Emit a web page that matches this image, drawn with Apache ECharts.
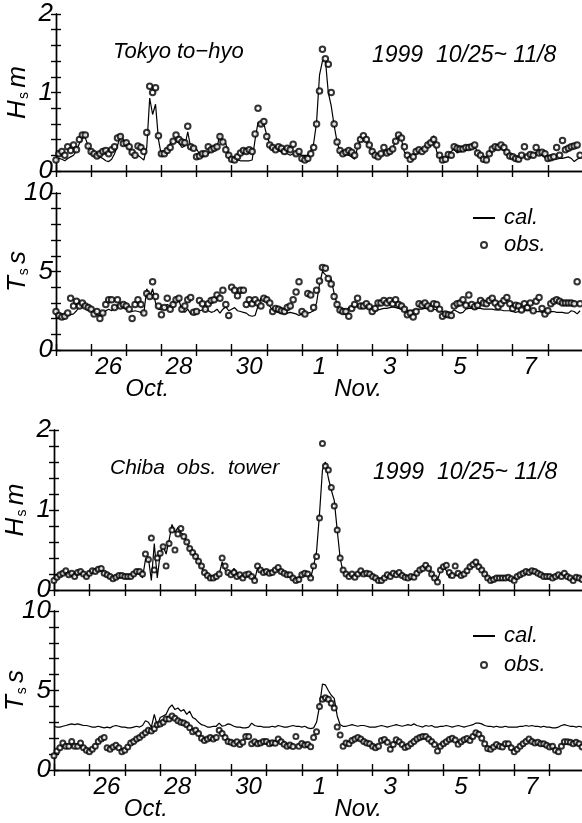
<!DOCTYPE html>
<html>
<head>
<meta charset="utf-8">
<script src="https://cdn.jsdelivr.net/npm/echarts@6/dist/echarts.min.js"></script>
<style>
  html, body { margin: 0; padding: 0; background: #fff; }
  #chart { width: 582px; height: 823px; }
</style>
</head>
<body>
<div id="chart"></div>
<script>
// time axis: days since Oct 25 00:00, one value every 2 hours
const STEP = 2 / 24;
const tickDays = [1, 3, 5, 7, 9, 11, 13];
const tickLabels = ['26', '28', '30', '1', '3', '5', '7'];
const monthDays = [2, 8];
const monthLabels = ['Oct.', 'Nov.'];

// Tokyo to-hyo, Hs (m)
const tokyoHObs = [
  0.14,0.22,0.25,0.2,0.31,0.26,0.33,0.27,0.4,0.46,0.46,0.32,
  0.25,0.22,0.19,0.22,0.25,0.26,0.22,0.27,0.31,0.42,0.44,0.35,
  0.36,0.31,0.24,0.2,0.32,0.3,0.25,0.49,1.08,1.0,1.06,0.45,
  0.22,0.22,0.26,0.3,0.38,0.46,0.4,0.37,0.36,0.57,0.31,0.29,
  0.18,0.19,0.22,0.22,0.31,0.27,0.29,0.31,0.44,0.37,0.27,0.2,
  0.15,0.14,0.18,0.23,0.26,0.25,0.27,0.25,0.47,0.8,0.6,0.63,
  0.44,0.33,0.3,0.27,0.31,0.29,0.25,0.29,0.27,0.34,0.22,0.25,
  0.16,0.14,0.16,0.22,0.3,0.6,1.02,1.55,1.43,1.36,1.0,0.6,
  0.37,0.26,0.22,0.24,0.26,0.24,0.2,0.32,0.4,0.45,0.4,0.33,
  0.25,0.2,0.18,0.22,0.3,0.23,0.25,0.28,0.38,0.46,0.42,0.31,
  0.2,0.15,0.18,0.25,0.27,0.25,0.28,0.33,0.36,0.4,0.33,0.2,
  0.14,0.15,0.21,0.2,0.31,0.29,0.28,0.28,0.3,0.3,0.31,0.33,
  0.23,0.2,0.15,0.14,0.22,0.28,0.31,0.3,0.33,0.3,0.24,0.19,
  0.18,0.16,0.15,0.2,0.31,0.18,0.21,0.2,0.3,0.23,0.24,0.22,
  0.16,0.17,0.18,0.3,0.2,0.39,0.27,0.29,0.31,0.32,0.33,0.2
];
const tokyoHCal = [
  0.13,0.16,0.15,0.13,0.16,0.18,0.2,0.26,0.35,0.43,0.42,0.32,
  0.22,0.2,0.17,0.18,0.16,0.13,0.12,0.15,0.22,0.32,0.46,0.4,
  0.36,0.28,0.2,0.2,0.2,0.17,0.14,0.3,0.93,0.72,0.85,0.4,
  0.2,0.22,0.28,0.35,0.4,0.38,0.36,0.3,0.32,0.5,0.3,0.3,
  0.28,0.22,0.18,0.2,0.22,0.25,0.3,0.3,0.47,0.36,0.35,0.2,
  0.18,0.15,0.14,0.13,0.13,0.13,0.13,0.14,0.4,0.62,0.57,0.6,
  0.45,0.35,0.3,0.28,0.26,0.24,0.22,0.22,0.2,0.22,0.2,0.22,
  0.2,0.2,0.2,0.25,0.35,0.62,1.22,1.4,1.42,1.0,0.83,0.58,
  0.37,0.25,0.22,0.21,0.2,0.18,0.15,0.3,0.4,0.42,0.38,0.3,
  0.26,0.2,0.18,0.2,0.22,0.22,0.24,0.28,0.4,0.46,0.4,0.24,
  0.22,0.2,0.2,0.22,0.25,0.26,0.28,0.32,0.38,0.45,0.25,0.18,
  0.15,0.17,0.2,0.25,0.28,0.23,0.25,0.26,0.27,0.28,0.3,0.32,
  0.24,0.2,0.17,0.18,0.22,0.25,0.28,0.3,0.28,0.26,0.23,0.2,
  0.19,0.18,0.18,0.19,0.2,0.2,0.21,0.22,0.23,0.24,0.2,0.17,
  0.15,0.14,0.15,0.15,0.16,0.16,0.17,0.18,0.16,0.12,0.15,0.17
];

// Tokyo to-hyo, Ts (s)
const tokyoTObs = [
  2.45,2.2,2.1,2.15,2.35,3.3,2.8,3.1,2.8,3.0,2.8,2.7,
  2.6,2.3,2.45,2.0,2.35,2.9,3.2,3.2,2.7,3.2,2.8,2.9,
  2.8,2.6,2.0,2.9,3.2,2.9,2.35,3.6,3.4,4.35,3.4,2.8,
  2.25,2.7,3.3,2.6,2.9,3.2,3.3,2.6,2.8,3.2,3.35,2.4,
  2.45,3.15,2.95,2.6,2.95,3.15,3.2,3.5,3.3,3.8,2.9,2.2,
  4.0,3.8,3.45,3.8,3.8,2.9,3.2,2.95,3.2,3.0,2.8,3.3,
  3.2,3.0,2.45,2.65,2.6,2.5,2.45,2.7,2.8,3.2,3.7,4.35,
  2.45,2.3,3.6,3.5,2.7,3.8,4.4,5.25,5.2,4.55,4.2,3.4,
  2.9,2.55,2.45,2.45,2.15,2.65,2.9,3.3,2.8,2.8,2.95,2.75,
  2.45,2.65,3.0,3.0,3.15,3.0,3.15,2.95,3.2,2.9,2.8,2.6,
  2.25,2.35,2.1,2.45,2.95,2.85,3.0,2.8,2.65,2.95,2.9,2.6,
  2.15,2.3,2.25,2.2,2.8,2.95,3.0,3.2,2.85,3.5,2.9,2.75,
  2.85,3.15,3.0,2.95,3.15,3.3,3.0,2.75,2.95,3.15,3.35,2.95,
  2.65,2.85,2.8,2.55,2.95,2.7,3.0,2.5,3.1,3.35,2.65,2.3,
  2.5,2.95,3.1,3.2,3.1,3.0,3.0,3.0,3.0,2.95,4.35,2.95
];
const tokyoTCal = [
  2.2,2.1,2.1,2.15,2.2,2.25,2.3,2.5,2.75,2.9,2.8,2.6,
  2.5,2.35,2.25,2.2,2.3,2.5,2.6,2.5,2.7,2.85,2.8,2.7,
  2.6,2.5,2.45,2.5,2.45,2.4,2.35,3.9,3.3,3.9,3.0,2.6,
  2.55,2.7,2.9,2.8,2.95,3.2,3.2,2.5,2.4,2.6,2.3,2.35,
  2.4,2.5,2.55,2.6,2.5,2.4,2.45,2.6,2.35,2.6,2.75,2.5,
  2.6,2.7,2.5,2.45,2.4,2.35,2.2,2.15,2.2,2.8,3.3,3.2,
  3.1,2.8,2.5,2.45,2.4,2.35,2.3,2.35,2.4,2.35,2.3,2.2,
  2.3,2.3,2.35,2.4,2.5,3.0,4.2,5.0,4.8,4.65,4.5,3.6,
  2.9,2.4,2.4,2.5,2.7,2.75,2.8,2.8,2.75,2.7,2.72,2.7,
  2.6,2.5,2.55,2.6,2.65,2.65,2.7,2.75,2.7,2.65,2.6,2.6,
  2.5,2.5,2.55,2.55,2.6,2.6,2.65,2.65,2.6,2.6,2.55,2.5,
  2.45,2.35,2.3,2.4,2.55,2.45,2.35,2.4,2.6,2.65,2.65,2.6,
  2.65,2.65,2.6,2.6,2.6,2.6,2.55,2.55,2.55,2.5,2.5,2.5,
  2.45,2.4,2.45,2.45,2.5,2.5,2.5,2.5,2.45,2.45,2.4,2.4,
  2.4,2.45,2.45,2.4,2.4,2.4,2.35,2.35,2.5,2.45,2.3,2.5
];

// Chiba obs. tower, Hs (m)
const chibaHObs = [
  0.12,0.16,0.19,0.21,0.24,0.19,0.21,0.17,0.22,0.23,0.2,0.17,
  0.21,0.24,0.23,0.26,0.27,0.21,0.19,0.17,0.14,0.16,0.18,0.18,
  0.17,0.17,0.17,0.2,0.23,0.23,0.2,0.45,0.38,0.65,0.25,0.4,
  0.46,0.54,0.3,0.58,0.75,0.5,0.7,0.77,0.67,0.6,0.52,0.47,
  0.42,0.36,0.3,0.22,0.18,0.15,0.15,0.17,0.2,0.4,0.3,0.22,
  0.19,0.22,0.17,0.19,0.15,0.19,0.2,0.17,0.12,0.3,0.25,0.22,
  0.23,0.21,0.22,0.25,0.28,0.23,0.21,0.19,0.19,0.15,0.12,0.13,
  0.19,0.21,0.2,0.15,0.3,0.42,0.9,1.83,1.55,1.5,1.28,1.05,
  0.75,0.4,0.25,0.2,0.17,0.2,0.16,0.2,0.24,0.2,0.21,0.2,
  0.17,0.15,0.12,0.12,0.15,0.19,0.17,0.21,0.19,0.22,0.18,0.16,
  0.15,0.17,0.16,0.21,0.25,0.27,0.31,0.27,0.2,0.15,0.1,0.25,
  0.29,0.31,0.22,0.18,0.3,0.21,0.18,0.2,0.24,0.29,0.32,0.35,
  0.29,0.25,0.2,0.15,0.12,0.13,0.15,0.15,0.15,0.15,0.16,0.14,
  0.12,0.17,0.19,0.21,0.23,0.22,0.24,0.23,0.21,0.19,0.17,0.17,
  0.17,0.15,0.17,0.19,0.17,0.21,0.17,0.15,0.12,0.16,0.15,0.13
];
const chibaHCal = [
  0.12,0.15,0.18,0.2,0.2,0.19,0.18,0.17,0.2,0.22,0.19,0.16,
  0.2,0.22,0.22,0.24,0.25,0.22,0.19,0.16,0.15,0.15,0.17,0.18,
  0.17,0.17,0.18,0.2,0.22,0.22,0.15,0.38,0.4,0.12,0.58,0.15,
  0.45,0.55,0.45,0.62,0.82,0.72,0.78,0.72,0.68,0.6,0.5,0.45,
  0.42,0.35,0.28,0.22,0.18,0.15,0.15,0.17,0.2,0.35,0.25,0.2,
  0.2,0.27,0.22,0.18,0.16,0.18,0.2,0.16,0.12,0.28,0.24,0.22,
  0.22,0.2,0.21,0.23,0.26,0.23,0.21,0.19,0.18,0.15,0.13,0.14,
  0.2,0.2,0.18,0.15,0.3,0.48,0.95,1.5,1.6,1.4,1.25,1.12,
  0.75,0.4,0.22,0.19,0.18,0.17,0.18,0.19,0.2,0.2,0.19,0.19,
  0.18,0.15,0.13,0.13,0.15,0.17,0.18,0.2,0.2,0.2,0.18,0.16,
  0.16,0.17,0.17,0.2,0.24,0.26,0.29,0.27,0.2,0.15,0.12,0.24,
  0.3,0.24,0.15,0.2,0.18,0.19,0.18,0.2,0.26,0.3,0.35,0.38,
  0.32,0.26,0.2,0.16,0.14,0.14,0.15,0.15,0.15,0.15,0.15,0.14,
  0.13,0.16,0.19,0.21,0.22,0.23,0.23,0.22,0.21,0.2,0.18,0.18,
  0.18,0.16,0.16,0.18,0.18,0.19,0.17,0.15,0.14,0.15,0.15,0.14
];

// Chiba obs. tower, Ts (s)
const chibaTObs = [
  0.9,1.2,1.4,1.7,1.5,1.5,1.8,1.5,1.5,1.7,1.4,1.25,
  1.15,1.3,1.5,1.8,1.95,2.05,1.4,1.3,1.45,1.55,1.4,1.15,
  1.25,1.45,1.7,1.8,1.95,2.05,2.2,2.35,2.5,2.45,2.6,2.85,
  2.9,3.0,3.2,3.2,3.4,3.25,3.1,3.0,2.95,2.85,2.65,2.4,
  2.5,2.3,2.0,1.85,1.95,2.05,1.95,2.05,2.5,2.3,2.05,1.8,
  1.75,1.65,1.78,1.6,1.75,2.1,2.1,1.65,1.78,1.65,1.7,1.8,
  1.8,1.65,1.72,1.68,1.95,1.78,1.62,1.5,1.57,1.48,2.1,1.5,
  1.67,1.57,1.6,1.46,2.05,2.4,4.0,4.45,4.55,4.45,4.2,3.9,
  2.7,2.2,1.5,1.7,1.65,1.85,1.95,2.05,1.95,1.8,1.7,1.65,
  1.5,1.4,1.5,1.85,1.92,1.75,1.3,1.6,1.9,1.78,1.6,1.42,
  1.5,1.65,1.8,1.95,2.05,2.1,2.1,1.95,1.8,1.6,1.2,1.5,
  1.65,1.78,1.92,2.0,1.88,1.62,1.78,1.9,1.98,1.85,2.1,2.35,
  2.25,2.0,1.65,1.35,1.3,1.45,1.6,1.5,1.45,1.65,1.65,1.4,
  1.15,1.3,1.5,1.65,1.8,1.95,1.8,1.7,1.75,1.65,1.65,1.55,
  1.45,1.5,1.25,1.15,1.5,1.78,1.78,1.75,1.65,1.75,1.65,1.45
];
const chibaTCal = [
  2.75,2.7,2.7,2.75,2.8,2.85,2.9,2.85,2.9,2.85,2.8,2.8,
  2.75,2.7,2.7,2.75,2.7,2.65,2.7,2.65,2.75,2.8,2.75,2.7,
  2.7,2.65,2.65,2.7,2.75,2.7,2.8,3.1,3.0,2.7,3.5,2.8,
  3.3,3.4,3.5,3.9,4.1,3.8,3.9,3.7,3.8,3.5,3.7,3.3,
  3.2,3.0,2.85,2.8,2.7,2.7,2.75,2.75,2.95,2.75,2.8,2.9,
  2.85,2.75,2.7,2.7,2.65,2.65,2.7,2.95,2.8,2.75,2.75,2.7,
  2.7,2.7,2.75,2.7,2.8,2.75,2.7,2.7,2.75,2.8,2.75,2.75,
  2.7,2.75,2.65,2.6,2.65,3.0,4.0,5.4,5.35,5.0,4.7,4.5,
  3.4,2.85,2.75,2.75,2.8,2.85,2.8,2.75,2.8,2.8,2.75,2.7,
  2.7,2.7,2.75,2.8,2.75,2.7,2.75,2.8,2.85,2.8,2.75,2.8,
  2.85,2.8,2.9,2.8,2.75,2.7,2.8,2.75,2.8,2.7,2.7,2.75,
  2.75,2.8,2.75,2.7,2.75,2.8,2.75,2.7,2.75,2.8,2.85,2.95,
  2.95,2.9,2.8,2.75,2.75,2.7,2.75,2.7,2.7,2.75,2.7,2.7,
  2.7,2.7,2.75,2.75,2.8,2.75,2.8,2.75,2.75,2.7,2.75,2.7,
  2.7,2.65,2.65,2.7,2.8,2.85,2.8,2.75,2.75,2.7,2.75,2.7
];

const FONT = '"Liberation Sans", Arial, sans-serif';
const BLACK = '#000';

const grids = [
  { left: 56, top: 14, width: 527, height: 157, outerBoundsMode: 'none' },
  { left: 56, top: 193, width: 527, height: 157, outerBoundsMode: 'none' },
  { left: 54, top: 430, width: 531, height: 160, outerBoundsMode: 'none' },
  { left: 54, top: 611, width: 531, height: 159, outerBoundsMode: 'none' }
];

function toPairs(arr) {
  return arr.map((v, i) => [i * STEP, v]);
}

const lineStyle = { color: BLACK, width: 1.4 };

function bottomX(gridIndex, withLabels) {
  return {
    type: 'value', gridIndex: gridIndex, position: 'bottom',
    min: 0, max: 15, interval: 1,
    axisLine: { lineStyle: lineStyle },
    axisTick: { inside: true, length: 6, lineStyle: lineStyle },
    splitLine: { show: false },
    axisLabel: {
      show: withLabels,
      margin: 5,
      hideOverlap: false,
      color: BLACK,
      fontFamily: FONT,
      fontStyle: 'italic',
      fontSize: 24,
      formatter: function (v) {
        const d = Math.round(v);
        const i = tickDays.indexOf(d);
        if (i >= 0) return '{d|' + tickLabels[i] + '}';
        const m = monthDays.indexOf(d);
        if (m >= 0) return '{m|' + monthLabels[m] + '}';
        return '';
      },
      rich: {
        d: { fontFamily: FONT, fontStyle: 'italic', fontSize: 24, color: BLACK, padding: [0, 0, 0, 35] },
        m: { fontFamily: FONT, fontStyle: 'italic', fontSize: 24, color: BLACK, padding: [22, 0, 0, 42] }
      }
    }
  };
}

function topX(gridIndex) {
  return {
    type: 'value', gridIndex: gridIndex, position: 'top',
    min: 0, max: 15, interval: 1,
    axisLine: { lineStyle: lineStyle },
    axisTick: { inside: true, length: 6, lineStyle: lineStyle },
    axisLabel: { show: false },
    splitLine: { show: false }
  };
}

function leftY(gridIndex, max, step, labelStep, symbol, unit) {
  return {
    type: 'value', gridIndex: gridIndex, position: 'left',
    min: 0, max: max, interval: step,
    axisLine: { show: true, lineStyle: lineStyle },
    axisTick: { show: true, inside: true, length: 5, lineStyle: lineStyle },
    splitLine: { show: false },
    axisLabel: {
      margin: 3,
      color: BLACK, fontFamily: FONT, fontStyle: 'italic', fontSize: 26,
      formatter: function (v) {
        const k = v / labelStep;
        return Math.abs(k - Math.round(k)) < 1e-6 ? String(Math.round(v)) : '';
      }
    },
    name: '{a|' + symbol + '}{b|s} {a|' + unit + '}',
    nameLocation: 'middle',
    nameRotate: 90,
    nameGap: 25,
    nameMoveOverlap: false,
    nameTextStyle: {
      rich: {
        a: { fontFamily: FONT, fontStyle: 'italic', fontSize: 26, color: BLACK },
        b: { fontFamily: FONT, fontSize: 14, color: BLACK, verticalAlign: 'bottom', padding: [0, 1, 0, 1] }
      }
    }
  };
}

function rightY(gridIndex, max, step) {
  return {
    type: 'value', gridIndex: gridIndex, position: 'right',
    min: 0, max: max, interval: step,
    axisLine: { show: true, lineStyle: lineStyle },
    axisTick: { show: true, inside: true, length: 5, lineStyle: lineStyle },
    axisLabel: { show: false },
    splitLine: { show: false }
  };
}

function calSeries(idx, data) {
  return {
    name: 'cal.', type: 'line', xAxisIndex: idx * 2, yAxisIndex: idx * 2,
    data: toPairs(data), symbol: 'none', showSymbol: false,
    lineStyle: { color: BLACK, width: 1.2 }, itemStyle: { color: 'rgba(0,0,0,0)' }, z: 2
  };
}

function obsSeries(idx, data, size) {
  return {
    name: 'obs.', type: 'scatter', xAxisIndex: idx * 2, yAxisIndex: idx * 2,
    data: toPairs(data), symbol: 'emptyCircle', symbolSize: size,
    itemStyle: { color: BLACK, borderWidth: 0.9 }, z: 3
  };
}

const textStyle = { fontFamily: FONT, fontStyle: 'italic', fontWeight: 'normal', color: BLACK, lineHeight: 24 };

function legendAt(top, gap) {
  return {
    data: ['cal.', 'obs.'], orient: 'vertical', left: 472, top: top,
    itemWidth: 22, itemHeight: 6, itemGap: gap, selectedMode: false, padding: 0,
    textStyle: { fontFamily: FONT, fontStyle: 'italic', fontSize: 22, color: BLACK, lineHeight: 20, padding: [0, 0, 0, 4] }
  };
}

const chart = echarts.init(document.getElementById('chart'), null, { renderer: 'canvas' });
chart.setOption({
  animation: false,
  backgroundColor: '#fff',
  title: [
    { text: 'Tokyo to\u2212hyo', left: 113, top: 40, padding: 0, textStyle: Object.assign({ fontSize: 22 }, textStyle) },
    { text: '1999  10/25~ 11/8', left: 372, top: 44, padding: 0, textStyle: Object.assign({ fontSize: 23 }, textStyle) },
    { text: 'Chiba  obs.  tower', left: 110, top: 456, padding: 0, textStyle: Object.assign({ fontSize: 21 }, textStyle) },
    { text: '1999  10/25~ 11/8', left: 373, top: 461, padding: 0, textStyle: Object.assign({ fontSize: 23 }, textStyle) }
  ],
  legend: [legendAt(207, 5), legendAt(625, 7)],
  grid: grids,
  xAxis: [
    bottomX(0, false), topX(0),
    bottomX(1, true), topX(1),
    bottomX(2, false), topX(2),
    bottomX(3, true), topX(3)
  ],
  yAxis: [
    leftY(0, 2, 0.2, 1, 'H', 'm'), rightY(0, 2, 0.2),
    leftY(1, 10, 1, 5, 'T', 's'), rightY(1, 10, 1),
    leftY(2, 2, 0.2, 1, 'H', 'm'), rightY(2, 2, 0.2),
    leftY(3, 10, 1, 5, 'T', 's'), rightY(3, 10, 1)
  ],
  series: [
    calSeries(0, tokyoHCal), obsSeries(0, tokyoHObs, 5.5),
    calSeries(1, tokyoTCal), obsSeries(1, tokyoTObs, 5.5),
    calSeries(2, chibaHCal), obsSeries(2, chibaHObs, 5),
    calSeries(3, chibaTCal), obsSeries(3, chibaTObs, 5)
  ]
});
</script>
</body>
</html>
